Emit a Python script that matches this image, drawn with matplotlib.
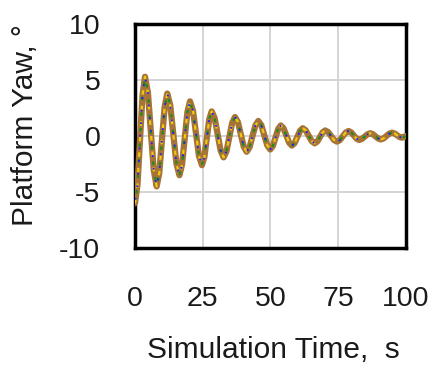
import matplotlib
matplotlib.use("Agg")
import matplotlib.pyplot as plt

# platform yaw response
time_s = [0, 0.93, 1.85, 2.78, 3.7,
          4.78, 5.85, 6.93, 8.0,
          8.98, 9.95, 10.93, 11.9,
          13.03, 14.15, 15.28, 16.4,
          17.38, 18.35, 19.33, 20.3,
          21.4, 22.5, 23.6, 24.7,
          25.6, 26.5, 27.4, 28.3,
          29.4, 30.5, 31.6, 32.7,
          33.75, 34.8, 35.85, 36.9,
          37.98, 39.05, 40.13, 41.2,
          42.28, 43.35, 44.43, 45.5,
          46.6, 47.7, 48.8, 49.9,
          50.88, 51.85, 52.83, 53.8,
          54.83, 55.85, 56.88, 57.9,
          58.9, 59.9, 60.9, 61.9,
          63.0, 64.1, 65.2, 66.3,
          67.28, 68.25, 69.23, 70.2,
          71.28, 72.35, 73.43, 74.5,
          75.58, 76.65, 77.73, 78.8,
          79.78, 80.75, 81.73, 82.7,
          83.73, 84.75, 85.78, 86.8,
          87.78, 88.75, 89.73, 90.7,
          91.73, 92.75, 93.78, 94.8,
          95.73, 96.65, 97.58, 98.5, 100]
yaw_deg = [-6.0, -4.35, -0.35, 3.65, 5.3,
           3.86, 0.4, -3.06, -4.5,
           -3.28, -0.35, 2.58, 3.8,
           2.73, 0.15, -2.43, -3.5,
           -2.53, -0.2, 2.13, 3.1,
           2.27, 0.25, -1.77, -2.6,
           -1.9, -0.2, 1.5, 2.2,
           1.6, 0.15, -1.3, -1.9,
           -1.37, -0.1, 1.17, 1.7,
           1.25, 0.15, -0.95, -1.4,
           -1.0, 0.0, 0.95, 1.35,
           0.98, 0.08, -0.82, -1.2,
           -0.89, -0.13, 0.63, 0.95,
           0.69, 0.05, -0.59, -0.85,
           -0.63, -0.08, 0.47, 0.7,
           0.51, 0.03, -0.45, -0.65,
           -0.49, -0.08, 0.33, 0.5,
           0.35, 0.0, -0.35, -0.5,
           -0.37, -0.03, 0.31, 0.45,
           0.33, 0.05, -0.23, -0.35,
           -0.26, -0.05, 0.16, 0.25,
           0.16, -0.03, -0.22, -0.3,
           -0.21, 0.0, 0.21, 0.3,
           0.24, 0.08, -0.08, -0.15, 0.0]

x_ticks = [0, 25, 50, 75, 100]
y_ticks = [-10, -5, 0, 5, 10]

plt.rcParams['font.family'] = ['Liberation Sans', 'DejaVu Sans']
plt.rcParams['axes.unicode_minus'] = False

fig = plt.figure(figsize=(4.31, 3.65), dpi=100)
ax = fig.add_axes([0.3132, 0.3205, 0.6288, 0.6135])

# several model runs, overlapping almost exactly
ax.plot(time_s, yaw_deg, color='#a57436', lw=4.5, solid_capstyle='round', zorder=3)
ax.plot(time_s, yaw_deg, color='#f2c80f', lw=1.6, ls=(0, (2, 5)), zorder=4)
ax.plot(time_s, yaw_deg, color='#1f8a1f', lw=1.6, ls=(2.5, (1.5, 5.5)), zorder=5)
ax.plot(time_s, yaw_deg, color='#1a1aff', lw=1.3, ls=(5, (1, 6)), zorder=6)

ax.set_xlim(0, 100)
ax.set_ylim(-10, 10)
ax.set_xticks(x_ticks)
ax.set_yticks(y_ticks)
ax.grid(True, color='#d4d4d4', lw=1.4)
ax.set_axisbelow(True)
for sp in ax.spines.values():
    sp.set_linewidth(2.5)
    sp.set_color('black')
ax.tick_params(length=0, labelsize=20.5, colors='#1a1a1a')
ax.tick_params(axis='x', pad=27)
ax.tick_params(axis='y', pad=25)

fig.text(33.5 / 431, 1 - 125 / 365, 'Platform Yaw, °', rotation=90,
         rotation_mode='anchor', ha='center', va='baseline',
         fontsize=21.5, color='#1a1a1a')
fig.text(0.635, 1 - 358 / 365, 'Simulation Time,  s', ha='center',
         va='baseline', fontsize=21.5, color='#1a1a1a')

fig.savefig('out.png', dpi=100)
